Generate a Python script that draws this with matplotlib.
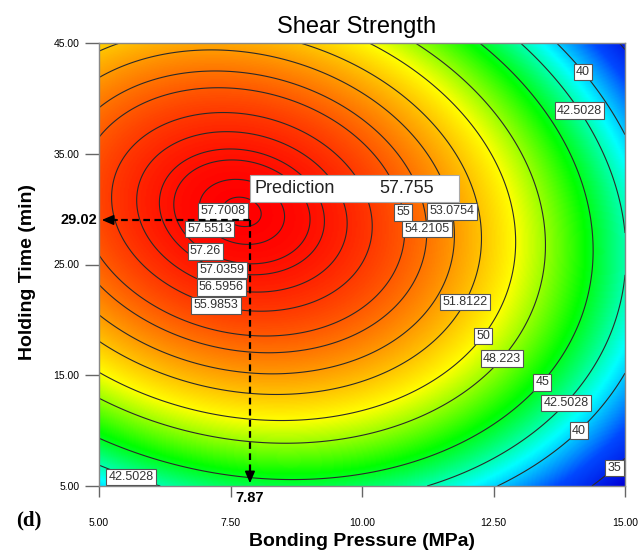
import numpy as np
import matplotlib
matplotlib.use("Agg")
import matplotlib.pyplot as plt
from matplotlib.colors import LinearSegmentedColormap
from matplotlib.patches import Rectangle

# ---- data ---------------------------------------------------------------
# contour-label centres (pressure, time) and the level each one shows
label_levels = [40, 42.5028, 55, 53.0754, 54.2105, 57.7008, 57.5513, 57.26,
                57.0359, 56.5956, 55.9853, 51.8122, 50, 48.223, 45, 42.5028,
                40, 35, 42.5028]
label_x = [14.20, 14.10, 10.82, 11.73, 11.23, 7.29, 7.11, 7.04, 7.34, 7.34,
           7.23, 11.92, 12.25, 12.61, 13.37, 13.81, 14.06, 14.74, 5.61]
label_y = [42.40, 38.80, 29.77, 29.77, 28.20, 29.77, 28.15, 26.30, 24.60,
           23.10, 21.40, 21.70, 18.70, 16.75, 14.60, 12.75, 10.27, 6.96, 5.75]

# where contour lines meet the frame
edge_levels = [51.8122, 51.8122, 50, 45, 42.5028, 40,
               40, 42.5028, 42.5028, 40,
               42.5028, 40, 35]
edge_x = [5.54, 8.79, 10.17, 12.20, 12.95, 13.60,
          15.0, 15.0, 15.0, 15.0,
          11.51, 12.86, 14.62]
edge_y = [45.0, 45.0, 45.0, 45.0, 45.0, 45.0,
          37.7, 30.2, 22.6, 14.8,
          5.0, 5.0, 5.0]

contour_levels = [35, 40, 42.5028, 45, 48.223, 50, 51.8122, 53.0754, 54.2105,
                  55, 55.9853, 56.5956, 57.0359, 57.26, 57.5513, 57.7008]

pred_x = 7.87
pred_y = 29.02
pred_value = 57.755

x_range = [5.0, 15.0]
y_range = [5.0, 45.0]
x_ticks = [5.0, 7.5, 10.0, 12.5, 15.0]
y_ticks = [5.0, 15.0, 25.0, 35.0, 45.0]

# colour ramp anchored on response values (Design-Expert style)
ramp_values = [33.0, 37.0, 41.0, 45.5, 50.0, 57.6]
ramp_colors = ['#0000d8', '#0048ff', '#00ffff', '#00ff00', '#ffff00',
               '#ff0000']

# ---- layout --------------------------------------------------------------
W, H = 644, 552
L, R, T, B = 99, 625, 43, 486
sx = (R - L) / (x_range[1] - x_range[0])   # pixels per MPa
sy = (B - T) / (y_range[1] - y_range[0])   # pixels per min

# ---- quadratic response surface fitted through the read points ----------
px_all = np.array(label_x + edge_x + [pred_x])
py_all = np.array(label_y + edge_y + [pred_y])
pz_all = np.array(label_levels + edge_levels + [pred_value])


def design(x, y):
    u = (np.asarray(x) - 10.0) / 5.0
    v = (np.asarray(y) - 25.0) / 20.0
    return np.stack([np.ones_like(u), u, v, u * v, u ** 2, v ** 2], axis=-1)


def grad_px(c, x, y):
    u = (x - 10.0) / 5.0
    v = (y - 25.0) / 20.0
    du = c[1] + c[3] * v + 2 * c[4] * u
    dv = c[2] + c[3] * u + 2 * c[5] * v
    return np.hypot(du / 5.0 / sx, dv / 20.0 / sy)


A = design(px_all, py_all)
w = np.ones_like(pz_all)
for _ in range(6):
    coef, *_ = np.linalg.lstsq(A * w[:, None], pz_all * w, rcond=None)
    w = 1.0 / np.maximum(grad_px(coef, px_all, py_all), 0.012)

plt.rcParams['font.family'] = ['Liberation Sans', 'DejaVu Sans']

fig = plt.figure(figsize=(W / 100, H / 100), dpi=100)
ax = fig.add_axes([L / W, 1 - B / H, (R - L) / W, (B - T) / H])

xs = np.linspace(x_range[0], x_range[1], 401)
ys = np.linspace(y_range[0], y_range[1], 401)
X, Y = np.meshgrid(xs, ys)
Z = design(X, Y) @ coef

zmin, zmax = Z.min(), Z.max()
stops = [(min(max((v - zmin) / (zmax - zmin), 0.0), 1.0), c)
         for v, c in zip(ramp_values, ramp_colors)]
stops[0] = (0.0, stops[0][1])
stops[-1] = (1.0, stops[-1][1])
cmap = LinearSegmentedColormap.from_list('dx', stops)

ax.imshow(Z, extent=[x_range[0], x_range[1], y_range[0], y_range[1]],
          origin='lower', aspect='auto', cmap=cmap,
          vmin=zmin, vmax=zmax, interpolation='bilinear', zorder=0)
cs = ax.contour(X, Y, Z, levels=contour_levels, colors='#2a2a2a',
                linewidths=0.8, zorder=2)
ax.set_xlim(*x_range)
ax.set_ylim(*y_range)

# contour labels: snap each read position onto its contour line
for lev, lx, ly in zip(label_levels, label_x, label_y):
    i = contour_levels.index(lev)
    segs = [s for s in cs.allsegs[i] if len(s)]
    qx, qy = lx, ly
    if segs:
        pts = np.vstack(segs)
        d = ((pts[:, 0] - lx) * sx) ** 2 + ((pts[:, 1] - ly) * sy) ** 2
        if np.sqrt(d.min()) <= 10:
            qx, qy = pts[np.argmin(d)]
    ax.text(qx, qy, f'{lev:g}', ha='center', va='center', fontsize=9,
            color='#333333', zorder=4,
            bbox=dict(boxstyle='square,pad=0.18', fc='white', ec='#555555',
                      lw=0.8))

# prediction flag
ax.add_patch(Rectangle((pred_x, 30.6), 11.85 - pred_x, 2.5, fc='white',
                       ec='#aaaaaa', lw=0.8, zorder=5))
ax.text(pred_x + 0.08, 31.85, 'Prediction', fontsize=13, va='center',
        ha='left', color='#222222', zorder=6)
ax.text(10.33, 31.85, f'{pred_value:.3f}', fontsize=13, va='center',
        ha='left', color='#222222', zorder=6)

# dashed guide lines with arrow heads
ax.plot([pred_x, pred_x], [pred_y, y_range[0] + 1.2], ls=(0, (3, 2)),
        color='black', lw=1.6, zorder=7)
ax.plot([pred_x, x_range[0] + 0.3], [pred_y, pred_y], ls=(0, (3, 2)),
        color='black', lw=1.6, zorder=7)
ax.annotate('', xy=(pred_x, y_range[0]), xytext=(pred_x, y_range[0] + 1.6),
            arrowprops=dict(arrowstyle='-|>,head_length=0.7,head_width=0.3',
                            color='black', lw=1.2), zorder=8)
ax.annotate('', xy=(x_range[0], pred_y), xytext=(x_range[0] + 0.4, pred_y),
            arrowprops=dict(arrowstyle='-|>,head_length=0.7,head_width=0.3',
                            color='black', lw=1.2), zorder=8)

# axes styling
for s in ax.spines.values():
    s.set_color('#888888')
    s.set_linewidth(1.0)
ax.set_xticks(x_ticks)
ax.set_xticklabels([f'{v:.2f}' for v in x_ticks])
ax.set_yticks(y_ticks)
ax.set_yticklabels([f'{v:.2f}' for v in y_ticks])
ax.tick_params(axis='x', direction='out', length=8, width=1, color='#666666',
               labelsize=7.5, pad=15)
ax.tick_params(axis='y', direction='out', length=10, width=1, color='#666666',
               labelsize=7.5, pad=4)

ax.text(pred_x, -0.012, f'{pred_x:.2f}', transform=ax.get_xaxis_transform(),
        ha='center', va='top', fontsize=10.5, fontweight='bold')
ax.text(-0.003, pred_y, f'{pred_y:.2f}', transform=ax.get_yaxis_transform(),
        ha='right', va='center', fontsize=10.5, fontweight='bold')

fig.text(357 / W, 1 - 27 / H, 'Shear Strength', ha='center', va='center',
         fontsize=17)
fig.text(362 / W, 1 - 541 / H, 'Bonding Pressure (MPa)', ha='center',
         va='center', fontsize=14, fontweight='bold')
fig.text(28 / W, 1 - 272 / H, 'Holding Time (min)', ha='center',
         va='center', fontsize=14, fontweight='bold', rotation=90)
fig.text(29 / W, 1 - 520 / H, '(d)', ha='center', va='center', fontsize=15,
         fontweight='bold', family=['Liberation Serif', 'DejaVu Serif'])

fig.savefig('out.png', dpi=100)
